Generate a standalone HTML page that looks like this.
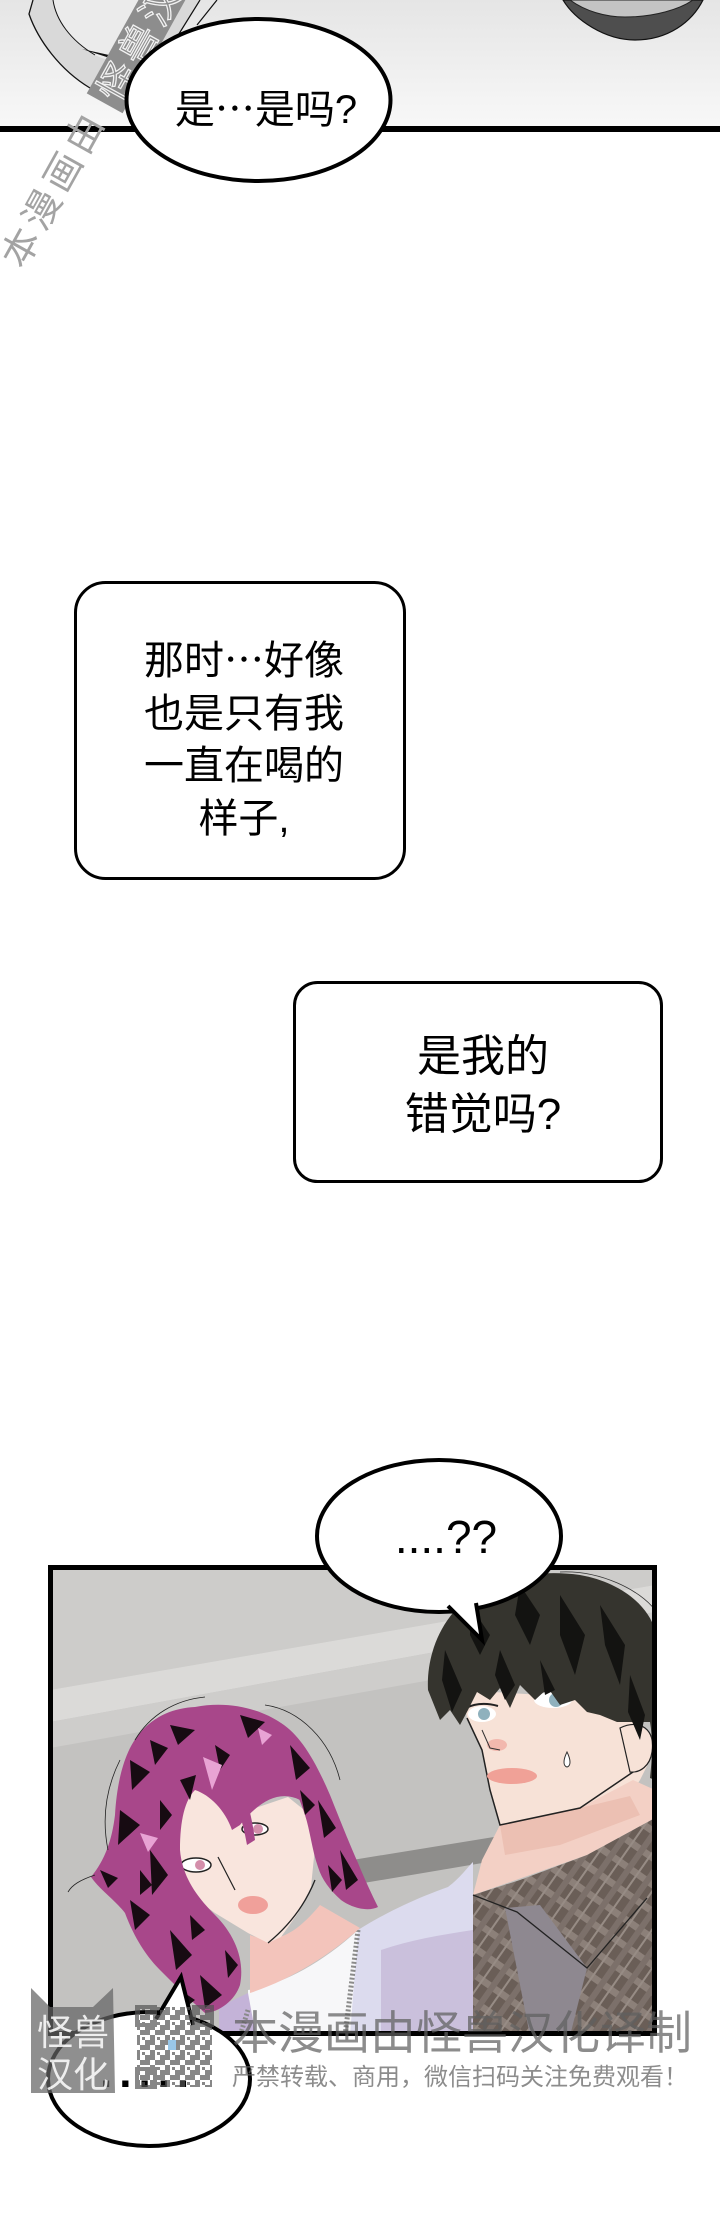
<!DOCTYPE html>
<html><head><meta charset="utf-8">
<style>
html,body{margin:0;padding:0;background:#fff;}
#p{position:relative;width:720px;height:2238px;overflow:hidden;background:#fff;}
.t{position:absolute;font-family:"Liberation Sans","Noto Sans CJK SC",sans-serif;color:#000;text-align:center;white-space:nowrap;}
.e{font-family:"Noto Sans CJK SC",sans-serif;}
svg{position:absolute;left:0;top:0;}
</style></head><body><div id="p">
<svg width="720" height="2238" viewBox="0 0 720 2238">
<defs>
<linearGradient id="topbg" x1="0" y1="0" x2="0" y2="1"><stop offset="0" stop-color="#e5e5e5"/><stop offset="1" stop-color="#f8f8f8"/></linearGradient>
<pattern id="plaid" width="22" height="22" patternUnits="userSpaceOnUse" patternTransform="rotate(35)">
<rect width="22" height="22" fill="#6a5e57"/><rect width="22" height="7" fill="#8c8079"/><rect width="6" height="22" fill="#7c706a"/><rect x="12" width="2" height="22" fill="#978c85"/>
</pattern>
</defs>
<!-- top panel -->
<rect x="0" y="0" width="720" height="128" fill="url(#topbg)"/>
<path d="M33,0 L29,14 C38,40 60,70 90,88 C105,96 118,98 125,97 L177,37 L200,0 Z" fill="#d9d9d9"/>
<path d="M53,0 C56,20 70,40 95,55 C105,60 115,62 125,60 L160,15 L170,0 Z" fill="#ebebeb"/>
<path d="M33,0 L29,14 C38,40 60,70 90,88 C105,96 118,98 125,97" fill="none" stroke="#111" stroke-width="1.3"/>
<path d="M53,0 C56,20 70,40 95,55" fill="none" stroke="#111" stroke-width="1"/>
<path d="M82,49 L122,62 L142,67 L118,57 Z" fill="#111"/>
<path d="M200,0 L177,37 M217,0 L197,25" stroke="#111" stroke-width="1.2" fill="none"/>
<path d="M563,0 C575,20 605,40 635,40 C668,40 692,22 703,0 Z" fill="#4e4e4e" stroke="#111" stroke-width="1.2"/>
<path d="M570,0 C585,11 605,17 625,17 C655,17 680,9 693,0 Z" fill="#c4c4c4" stroke="#222" stroke-width="1"/>
<rect x="0" y="126" width="720" height="6" fill="#000"/>
<g transform="translate(11,264) rotate(-61)">
<rect x="186" y="-16.5" width="200" height="41" fill="#8d8d8d"/>
<text x="192" y="18" font-size="38" letter-spacing="5.5" fill="#8d8d8d" stroke="#f2f2f2" stroke-width="1.3" font-family="Liberation Sans, Noto Sans CJK SC, sans-serif">怪兽汉化译制</text>
</g>
<ellipse cx="258.5" cy="100" rx="132" ry="81" fill="#fff" stroke="#000" stroke-width="4"/>
<g transform="translate(11,264) rotate(-61)">
<text x="0" y="14" font-size="38" letter-spacing="5.5" fill="#a3a3a3" font-family="Liberation Sans, Noto Sans CJK SC, sans-serif">本漫画由</text>
</g>
<!-- boxes -->
<rect x="75.5" y="582.5" width="329" height="296" rx="30" fill="#fff" stroke="#000" stroke-width="3"/>
<rect x="294.5" y="982.5" width="367" height="199" rx="23" fill="#fff" stroke="#000" stroke-width="3"/>
<!-- lower panel background -->
<rect x="48" y="1565" width="609" height="471" fill="#c3c2c0"/>
<polygon points="50,1568 655,1568 655,1585 50,1690" fill="#cdccca"/>
<polygon points="50,1690 655,1585 655,1612 50,1722" fill="#dbdad8"/>
<polygon points="50,1722 655,1612 655,1640 50,1748" fill="#cecdcb"/>
<polygon points="340,1862 500,1836 500,1860 340,1887" fill="#8e8d8b"/>
<!-- pink guy clothes -->
<path d="M358,1930 C390,1910 420,1897 448,1887 C460,1878 467,1868 473,1862 L473,2036 L340,2036 Z" fill="#dcdbee"/>
<path d="M381,1950 C410,1940 440,1935 473,1930 L473,2036 L381,2036 Z" fill="#cac0dc"/>
<path d="M248,1990 C280,1985 320,1965 358,1930 L350,2036 L248,2036 Z" fill="#f7f7f9"/>
<path d="M219,2007 L248,1993 L256,2036 L219,2036 Z" fill="#c4b3d8"/>
<path d="M358,1930 L345,2036" stroke="#8a8a8a" stroke-width="5" stroke-dasharray="2 2"/>
<path d="M248,2010 L240,2036" stroke="#8a8a8a" stroke-width="5" stroke-dasharray="2 2"/>
<!-- pink neck & face -->
<path d="M250,1935 C275,1945 295,1935 320,1905 L360,1928 C330,1955 290,1980 250,1993 Z" fill="#f3c4bb"/>
<path d="M171,1790 L198,1780 L235,1815 L288,1797 L308,1813 L315,1847 L311,1887 L298,1913 L281,1937 L268,1943 L248,1933 L215,1913 L188,1893 L175,1867 L171,1830 Z" fill="#f9e5dd"/>
<path d="M268,1943 C290,1925 305,1905 315,1880" stroke="#222" stroke-width="1.3" fill="none"/>
<ellipse cx="255" cy="1829" rx="13" ry="6" fill="#fff" stroke="#222" stroke-width="1.5"/>
<circle cx="258" cy="1829" r="5" fill="#d48fab"/>
<ellipse cx="196" cy="1865" rx="15" ry="7" fill="#fff" stroke="#222" stroke-width="1.5"/>
<circle cx="200" cy="1865" r="5" fill="#d48fab"/>
<path d="M218,1857 L235,1890" stroke="#222" stroke-width="1.2"/>
<ellipse cx="253" cy="1905" rx="15" ry="9" fill="#f0a09a"/>
<!-- pink hair -->
<path d="M195,1707 C230,1700 262,1710 281,1723 C300,1745 315,1770 320,1790 L300,1800 C280,1790 260,1800 240,1825 L232,1830 C225,1810 210,1795 195,1790 C185,1800 180,1820 180,1850 C182,1875 195,1895 215,1915 C235,1935 245,1960 240,1985 C235,2000 220,2012 205,2013 C190,2000 175,1985 160,1970 C148,1958 135,1940 125,1913 C115,1900 100,1890 91,1877 C105,1860 112,1840 115,1815 C117,1780 125,1750 140,1733 C155,1715 175,1708 195,1707 Z" fill="#a8478a"/>
<path d="M281,1723 C300,1735 315,1760 330,1795 C340,1820 350,1845 358,1863 C365,1880 372,1895 378,1907 C368,1912 352,1908 341,1900 C330,1890 322,1880 318,1867 C312,1850 310,1830 305,1815 C300,1800 292,1780 281,1760 Z" fill="#a8478a"/>
<path d="M215,1730 C235,1760 250,1800 255,1840 L247,1845 C240,1805 225,1770 205,1740 Z" fill="#a8478a"/>
<g fill="#170b12">
<path d="M170,1725 L195,1730 L178,1745Z"/><path d="M130,1760 L150,1772 L132,1790Z"/><path d="M120,1810 L140,1825 L118,1845Z"/><path d="M150,1850 L168,1875 L152,1895Z"/><path d="M130,1900 L150,1915 L135,1930Z"/><path d="M170,1930 L192,1955 L176,1970Z"/><path d="M200,1975 L222,1995 L205,2008Z"/><path d="M240,1715 L265,1722 L248,1738Z"/><path d="M290,1745 L310,1768 L296,1780Z"/><path d="M318,1800 L336,1828 L324,1838Z"/><path d="M340,1850 L358,1880 L346,1890Z"/><path d="M180,1780 L196,1775 L190,1800Z"/><path d="M225,1950 L238,1965 L228,1978Z"/><path d="M100,1870 L118,1878 L108,1888Z"/>
<path d="M150,1740 L168,1748 L155,1765Z"/><path d="M160,1800 L172,1815 L160,1830Z"/><path d="M140,1870 L152,1885 L140,1895Z"/><path d="M190,1915 L205,1930 L192,1940Z"/><path d="M215,1745 L230,1755 L220,1770Z"/><path d="M300,1790 L315,1805 L305,1815Z"/><path d="M328,1865 L342,1880 L332,1892Z"/><path d="M180,1990 L195,2000 L185,2008Z"/>
</g>
<g fill="#e8a3d4"><path d="M203,1757 L222,1765 L212,1790Z"/><path d="M140,1833 L158,1838 L148,1852Z"/><path d="M258,1728 L272,1735 L262,1745Z"/></g>
<path d="M135,1740 C150,1715 175,1700 205,1697 M265,1705 C300,1710 330,1740 340,1780 M95,1875 C80,1880 72,1885 68,1892 M120,1760 C105,1790 102,1820 108,1850" stroke="#222" stroke-width="0.8" fill="none"/>
<!-- dark guy face -->
<path d="M462,1690 L620,1700 L640,1725 L650,1760 L640,1780 L630,1795 L580,1808 L500,1825 L490,1790 L482,1750 L467,1718 Z" fill="#f7e2d7"/>
<path d="M500,1825 L580,1808 L633,1780 L655,1790 L655,1818 L587,1855 L473,1895 L482,1860 Z" fill="#f3d0c5"/>
<path d="M500,1825 L580,1808 L630,1796 L640,1815 L560,1845 L505,1855 Z" fill="#ecc0b3"/>
<path d="M467,1718 L482,1750 L490,1790 L500,1825 L580,1808 L633,1772" stroke="#222" stroke-width="1.5" fill="none"/>
<path d="M620,1728 C640,1718 656,1730 652,1752 C650,1766 640,1773 630,1772 Z" fill="#f7e2d7" stroke="#222" stroke-width="1.2"/>
<ellipse cx="482" cy="1714" rx="14" ry="8" fill="#fff"/>
<circle cx="484" cy="1714" r="6" fill="#8fb1bd"/>
<path d="M466,1708 Q480,1701 498,1706" stroke="#222" stroke-width="2" fill="none"/>
<ellipse cx="553" cy="1700" rx="19" ry="8" fill="#fff"/>
<circle cx="556" cy="1700" r="7" fill="#8fb1bd"/>
<path d="M532,1695 Q552,1686 575,1692" stroke="#222" stroke-width="2" fill="none"/>
<ellipse cx="497" cy="1745" rx="10" ry="6" fill="#f2b8ae"/>
<path d="M482,1730 L490,1748 L500,1750" stroke="#333" stroke-width="1" fill="none"/>
<ellipse cx="512" cy="1776" rx="25" ry="8" fill="#f0a197"/>
<path d="M567,1752 C563,1760 563,1766 567,1767 C571,1766 571,1760 567,1752 Z" fill="#fff" stroke="#333" stroke-width="1"/>
<!-- dark guy hair -->
<path d="M428,1690 C426,1650 445,1610 480,1590 C510,1575 545,1570 580,1575 C620,1582 648,1605 655,1630 L655,1780 L650,1778 C652,1760 653,1740 650,1722 L617,1722 L600,1715 L587,1712 L575,1700 L560,1705 L548,1688 L535,1700 L520,1685 L510,1708 L500,1688 L490,1700 L477,1692 L468,1710 L460,1725 L450,1710 L440,1720 L432,1700 Z" fill="#35342e"/>
<g fill="#131311">
<path d="M470,1605 L490,1635 L480,1655 L470,1635Z"/><path d="M520,1585 L540,1615 L530,1645 L515,1615Z"/><path d="M560,1595 L585,1635 L575,1675 L560,1635Z"/><path d="M600,1605 L625,1645 L620,1685 L605,1645Z"/><path d="M445,1650 L462,1690 L452,1712 L442,1680Z"/><path d="M500,1650 L515,1685 L505,1700 L495,1675Z"/><path d="M540,1660 L555,1690 L545,1695Z"/><path d="M630,1675 L645,1715 L640,1740 L628,1712Z"/>
</g>
<path d="M560,1572 C600,1570 640,1590 655,1610" stroke="#333" stroke-width="0.8" fill="none"/>
<!-- plaid shirt -->
<path d="M473,2036 L473,1895 L520,1880 L587,1855 L655,1818 L655,2036 Z" fill="url(#plaid)"/>
<path d="M505,1908 L540,1905 L587,1968 L570,2036 L530,2036 Z" fill="#8e8890"/>
<path d="M473,1895 L517,1912 L587,1968 L647,1898" stroke="#222" stroke-width="1.3" fill="none"/>
<!-- panel border -->
<rect x="50.5" y="1567.5" width="604" height="466" fill="none" stroke="#000" stroke-width="5"/>
<!-- bubble ....?? -->
<ellipse cx="439" cy="1536" rx="122" ry="76" fill="#fff" stroke="#000" stroke-width="4"/>
<path d="M448,1606 L482,1640 L476,1603" fill="#fff" stroke="#000" stroke-width="4" stroke-linejoin="miter"/>
<!-- bottom bubble -->
<ellipse cx="149" cy="2079" rx="101" ry="67" fill="#fff" stroke="#000" stroke-width="4"/>
<path d="M156,2019 L181,1977 L193,2025" fill="#fff" stroke="#000" stroke-width="4" stroke-linejoin="miter"/>
</svg>

<div class="t" style="left:125px;top:86px;width:282px;font-size:40px;line-height:40px;">是<span class="e">…</span>是吗?</div>
<div class="t" style="left:78px;top:631px;width:332px;font-size:40px;line-height:52.5px;">那时<span class="e">…</span>好像<br>也是只有我<br>一直在喝的<br>样子,</div>
<div class="t" style="left:293px;top:1028px;width:380px;font-size:44px;line-height:58px;">是我的<br>错觉吗?</div>
<div class="t" style="left:346px;top:1514px;width:200px;font-size:46px;line-height:46px;">....??</div>
<div class="t" style="left:100px;top:2051px;text-align:left;font-size:44px;line-height:44px;font-weight:bold;letter-spacing:7px;">.....</div>

<svg width="720" height="2238" viewBox="0 0 720 2238">
<defs>
<pattern id="qr" width="15" height="15" patternUnits="userSpaceOnUse">
<rect x="0" y="0" width="5" height="5" fill="#555"/><rect x="10" y="0" width="5" height="10" fill="#555"/><rect x="5" y="5" width="5" height="5" fill="#555"/><rect x="0" y="10" width="5" height="5" fill="#555"/><rect x="7" y="12" width="3" height="3" fill="#555"/>
</pattern>
</defs>
<path d="M31,1988 L50,2007 L93,2007 L113,1988 L115,2093 L31,2093 Z" fill="rgba(100,100,100,0.72)"/>
<text x="37" y="2045" font-size="36" fill="rgba(255,255,255,0.85)" font-family="Liberation Sans, Noto Sans CJK SC, sans-serif">怪兽</text>
<text x="37" y="2087" font-size="36" fill="rgba(255,255,255,0.85)" font-family="Liberation Sans, Noto Sans CJK SC, sans-serif">汉化</text>
<g opacity="0.7">
<rect x="137" y="2007" width="75" height="80" fill="url(#qr)"/>
<rect x="137" y="2007" width="18" height="18" fill="none" stroke="#555" stroke-width="4"/>
<rect x="194" y="2007" width="18" height="18" fill="none" stroke="#555" stroke-width="4"/>
<rect x="137" y="2069" width="18" height="18" fill="none" stroke="#555" stroke-width="4"/>
<rect x="168" y="2040" width="8" height="10" fill="#6fb0e0"/>
</g>
</svg>
<div class="t" style="left:232px;top:2010px;font-size:46px;line-height:46px;color:rgba(95,95,95,0.72);text-align:left;">本漫画由怪兽汉化译制</div>
<div class="t" style="left:232px;top:2066px;font-size:24px;line-height:24px;color:rgba(95,95,95,0.72);text-align:left;">严禁转载、商用，微信扫码关注免费观看！</div>
</div></body></html>
